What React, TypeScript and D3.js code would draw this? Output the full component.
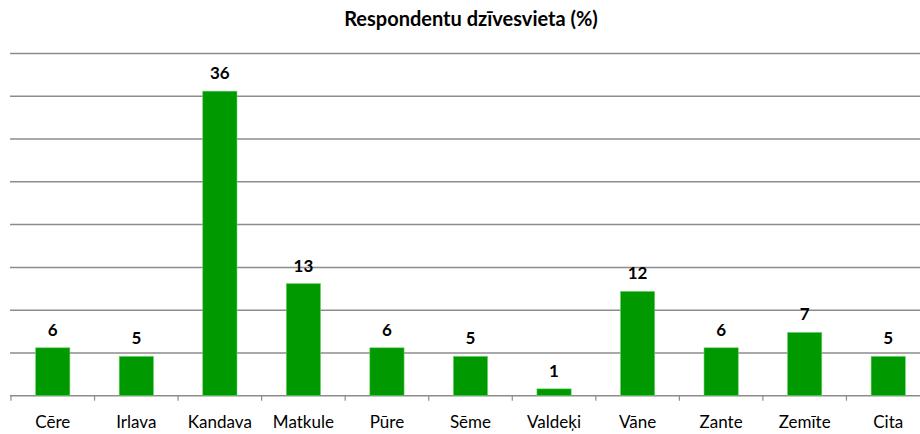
import React from "react";
import * as d3 from "d3";

const categories = ["Cēre", "Irlava", "Kandava", "Matkule", "Pūre", "Sēme", "Valdeķi", "Vāne", "Zante", "Zemīte", "Cita"];
const values = [5.6, 4.6, 35.6, 13.1, 5.6, 4.6, 0.8, 12.2, 5.6, 7.4, 4.6];
const gridTicks = [0, 5, 10, 15, 20, 25, 30, 35, 40];
const title = "Respondentu dzīvesvieta (%)";

const W = 920;
const H = 434;
const left = 11;
const right = 930;
const top = 53.5;
const bottom = 395.7;

export default function App() {
  const x = d3.scaleBand<string>().domain(categories).range([left, right]).paddingInner(0.59).paddingOuter(0.295);
  const xb = d3.scaleBand<string>().domain(categories).range([left, right]);
  const y = d3.scaleLinear().domain([0, 40]).range([bottom, top]);
  const fmt = d3.format(".0f");
  const font = "Lato, 'Noto Sans', sans-serif";
  return (
    <svg width={W} height={H} style={{ position: "absolute", left: 0, top: 0, background: "#fff" }}>
      <text x={471} y={26} textAnchor="middle" fontFamily={font} fontWeight="bold" fontSize={20} letterSpacing={0} fill="#000">
        {title}
      </text>
      {gridTicks.map((t) => (
        <line key={t} x1={left - 1} x2={W} y1={y(t)} y2={y(t)} stroke="#8c8c8c" strokeWidth={1.5} />
      ))}
      {categories.map((c) => (
        <line key={"tk" + c} x1={xb(c)!} x2={xb(c)!} y1={bottom} y2={bottom + 5} stroke="#8c8c8c" strokeWidth={1.2} />
      ))}
      <line x1={right} x2={right} y1={bottom} y2={bottom + 5} stroke="#8c8c8c" strokeWidth={1.2} />
      {categories.map((c, i) => (
        <g key={c}>
          <rect x={x(c)!} y={y(values[i])} width={x.bandwidth()} height={y(0) - y(values[i])} fill="#009900" stroke="#6fd46f" strokeWidth={0.6} />
          <text x={x(c)! + x.bandwidth() / 2} y={y(values[i]) - 12} textAnchor="middle" fontFamily={font} fontWeight="bold" fontSize={17} fill="#000">
            {fmt(values[i])}
          </text>
          <text x={xb(c)! + xb.bandwidth() / 2} y={428} textAnchor="middle" fontFamily={font} fontSize={17} fill="#000">
            {c}
          </text>
        </g>
      ))}
    </svg>
  );
}
